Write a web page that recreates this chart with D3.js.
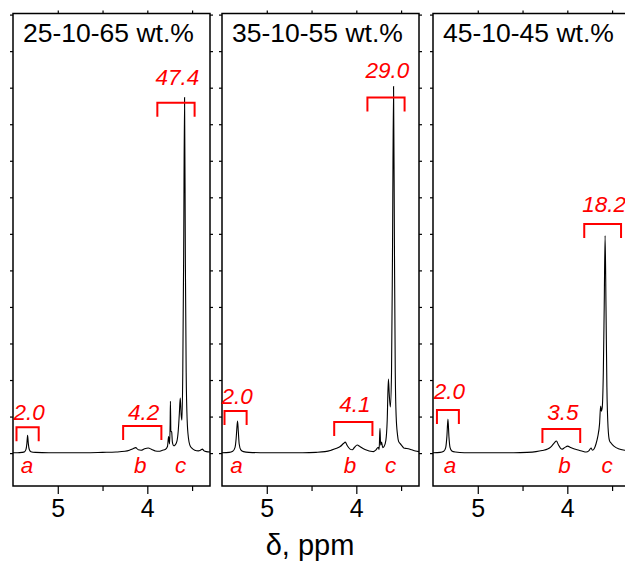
<!DOCTYPE html>
<html>
<head>
<meta charset="utf-8">
<script src="https://cdn.jsdelivr.net/npm/d3@7"></script>
<style>
  body { margin: 0; background: #fff; }
  text { font-family: "Liberation Sans", Arial, sans-serif; }
</style>
</head>
<body>
<svg width="625" height="563"></svg>
<script>
// three 1H NMR spectra side by side, same ppm window each

var titles = ['25-10-65 wt.%', '35-10-55 wt.%', '45-10-45 wt.%'];

// [ppm, intensity] (baseline = 0)
var spec1 = [
  [5.50, 0.1], [5.45, 0.1], [5.40, 0.2], [5.37, 0.4], [5.355, 1.0], [5.345, 2.6], [5.337, 4.9],
  [5.329, 2.6], [5.318, 1.0], [5.30, 0.4], [5.25, 0.2], [5.10, 0.1], [4.90, 0.1], [4.70, 0.1],
  [4.50, 0.2], [4.35, 0.3], [4.25, 0.5], [4.20, 0.8], [4.16, 1.2], [4.13, 1.5], [4.10, 0.9],
  [4.07, 0.8], [4.03, 1.2], [3.99, 1.4], [3.95, 1.0], [3.91, 0.6], [3.87, 0.5], [3.83, 0.8],
  [3.80, 1.0], [3.775, 1.8], [3.762, 4.5], [3.752, 2.5], [3.745, 8], [3.742, 14.2], [3.737, 6],
  [3.728, 5.8], [3.72, 3], [3.705, 2.0], [3.69, 2.2], [3.67, 3.2], [3.655, 6], [3.642, 11],
  [3.632, 15.1], [3.622, 10.5], [3.613, 9], [3.604, 22], [3.594, 55], [3.584, 97.3], [3.575, 52],
  [3.566, 22], [3.555, 9], [3.54, 4], [3.525, 2.2], [3.50, 1.3], [3.47, 0.8], [3.43, 0.6],
  [3.40, 0.9], [3.385, 1.1], [3.37, 0.7], [3.34, 0.4], [3.30, 0.3]
];
var spec2 = [
  [5.50, 0.1], [5.42, 0.2], [5.38, 0.5], [5.355, 1.5], [5.342, 4], [5.332, 7.5], [5.326, 8.8],
  [5.318, 6], [5.308, 2.5], [5.29, 0.9], [5.26, 0.4], [5.20, 0.2], [5.00, 0.1], [4.80, 0.1],
  [4.60, 0.1], [4.45, 0.2], [4.35, 0.4], [4.28, 0.8], [4.22, 1.3], [4.18, 1.8], [4.14, 2.7],
  [4.124, 3.0], [4.10, 2.0], [4.07, 1.1], [4.045, 0.9], [4.02, 1.6], [3.99, 2.2], [3.96, 1.8],
  [3.92, 1.2], [3.88, 0.8], [3.84, 0.5], [3.81, 0.4], [3.78, 0.9], [3.755, 1.6], [3.745, 1.0],
  [3.736, 6.8], [3.728, 2.2], [3.718, 3.0], [3.705, 1.5], [3.69, 1.8], [3.67, 3.5], [3.655, 9],
  [3.642, 20.3], [3.632, 16], [3.62, 12.6], [3.607, 22], [3.596, 55], [3.584, 100.3], [3.574, 55],
  [3.565, 22], [3.555, 10], [3.54, 5], [3.528, 3.2], [3.51, 2.6], [3.49, 2.0], [3.47, 1.4],
  [3.45, 1.3], [3.42, 1.2], [3.38, 0.9], [3.34, 0.6], [3.30, 0.4]
];
var spec3 = [
  [5.50, 0.1], [5.42, 0.2], [5.38, 0.5], [5.358, 1.5], [5.345, 4.5], [5.333, 9.3], [5.322, 4.5],
  [5.31, 1.6], [5.29, 0.6], [5.25, 0.3], [5.15, 0.1], [5.00, 0.1], [4.80, 0.1], [4.60, 0.1],
  [4.45, 0.2], [4.35, 0.4], [4.28, 0.7], [4.22, 1.1], [4.18, 1.8], [4.145, 2.8], [4.122, 3.3],
  [4.10, 2.3], [4.075, 1.3], [4.056, 1.1], [4.03, 1.5], [3.995, 1.9], [3.97, 1.6], [3.92, 1.1],
  [3.87, 0.8], [3.83, 0.5], [3.79, 0.3], [3.76, 0.6], [3.735, 1.4], [3.72, 0.8], [3.70, 1.2],
  [3.68, 2.5], [3.66, 4.5], [3.64, 8], [3.628, 12.9], [3.62, 11.5], [3.61, 12.5], [3.598, 22],
  [3.588, 40], [3.578, 59.5], [3.568, 40], [3.558, 18], [3.545, 7], [3.53, 3.5], [3.51, 2.7],
  [3.48, 1.9], [3.42, 1.1], [3.36, 0.8], [3.30, 0.6]
];
var spectra = [spec1, spec2, spec3];

// integrals: ppm range of the bracket, the number, bracket height, number height
var intRanges = [
  [[5.461, 5.213], [4.270, 3.843], [3.888, 3.472]],
  [[5.472, 5.225], [4.247, 3.820], [3.876, 3.461]],
  [[5.456, 5.211], [4.278, 3.856], [3.811, 3.400]]
];
var intValues = [
  ['2.0', '4.2', '47.4'],
  ['2.0', '4.1', '29.0'],
  ['2.0', '3.5', '18.2']
];
var intLevels = [
  [7.1, 7.4, 95.9],
  [11.5, 8.5, 97.3],
  [11.8, 6.6, 62.7]
];
var labelLevels = [
  [9.0, 9.0, 100.8],
  [13.4, 11.2, 102.7],
  [14.8, 9.0, 66.0]
];

var peakLetters = ['a', 'b', 'c'];
var letterPpm = [
  [5.343, 4.079, 3.629],
  [5.337, 4.07, 3.618],
  [5.31, 4.03, 3.556]
];

var majorTicks = [5, 4];
var minorTicks = [4.5, 3.5];
var yTicks = d3.range(0, 121, 10);
var xTitle = 'δ, ppm';

// layout (hard-coded, the panels are all the same size)
var panelLeft = [13, 222, 433];
var panelTop = 13.5;
var pw = 197, ph = 472.5;
var red = '#ff0000';

var svg = d3.select('svg');

var x = d3.scaleLinear().domain([5.5, 3.3]).range([0, pw]);
var y = d3.scaleLinear().domain([-9, 120.3]).range([ph, 0]);

var line = d3.line()
  .x(function(d) { return x(d[0]); })
  .y(function(d) { return y(d[1]); })
  .curve(d3.curveMonotoneX);

var styleAxis = function(g) {
  g.select('.domain').remove();
  g.selectAll('line').attr('stroke', '#000').attr('stroke-width', 1.2);
  g.attr('font-family', '"Liberation Sans", Arial, sans-serif').attr('font-size', 25);
  g.selectAll('text').attr('fill', '#000');
};

spectra.forEach(function(spec, i) {
  var g = svg.append('g').attr('transform', 'translate(' + panelLeft[i] + ',' + panelTop + ')');

  // ticks all round, pointing out
  g.append('g').attr('transform', 'translate(0,' + ph + ')')
    .call(d3.axisBottom(x).tickValues(majorTicks).tickSize(8).tickPadding(5).tickFormat(d3.format('d')))
    .call(styleAxis);
  g.append('g').attr('transform', 'translate(0,' + ph + ')')
    .call(d3.axisBottom(x).tickValues(minorTicks).tickSize(5).tickFormat(''))
    .call(styleAxis);
  g.append('g')
    .call(d3.axisTop(x).tickValues(majorTicks.concat(minorTicks)).tickSize(3).tickFormat(''))
    .call(styleAxis);
  g.append('g')
    .call(d3.axisLeft(y).tickValues(yTicks).tickSize(3).tickFormat(''))
    .call(styleAxis);
  g.append('g').attr('transform', 'translate(' + pw + ',0)')
    .call(d3.axisRight(y).tickValues(yTicks).tickSize(3).tickFormat(''))
    .call(styleAxis);

  g.append('rect')
    .attr('width', pw).attr('height', ph)
    .attr('fill', 'none').attr('stroke', '#000').attr('stroke-width', 1.5);

  g.append('text')
    .attr('x', 10).attr('y', 28.5)
    .attr('font-size', 26.5)
    .text(titles[i]);

  g.append('path')
    .datum(spec)
    .attr('d', line)
    .attr('fill', 'none')
    .attr('stroke', '#000')
    .attr('stroke-width', 1.1);

  // integral brackets
  intRanges[i].forEach(function(r, j) {
    var x1 = x(r[0]), x2 = x(r[1]), yy = y(intLevels[i][j]);
    g.append('path')
      .attr('d', 'M' + x1 + ',' + (yy + 14) + 'V' + yy + 'H' + x2 + 'V' + (yy + 14))
      .attr('fill', 'none')
      .attr('stroke', red)
      .attr('stroke-width', 2);
    g.append('text')
      .attr('x', (x1 + x2) / 2 + 1.5)
      .attr('y', y(labelLevels[i][j]))
      .attr('text-anchor', 'middle')
      .attr('font-size', 22.5)
      .attr('font-style', 'italic')
      .attr('fill', red)
      .text(intValues[i][j]);
  });

  g.selectAll('.letter')
    .data(peakLetters)
    .enter()
    .append('text')
    .attr('class', 'letter')
    .attr('x', function(d, j) { return x(letterPpm[i][j]); })
    .attr('y', y(0) + 20)
    .attr('text-anchor', 'middle')
    .attr('font-size', 22.5)
    .attr('font-style', 'italic')
    .attr('fill', red)
    .text(function(d) { return d; });
});

svg.append('text')
  .attr('x', 310).attr('y', 555)
  .attr('text-anchor', 'middle')
  .attr('font-size', 29)
  .text(xTitle);
</script>
</body>
</html>
